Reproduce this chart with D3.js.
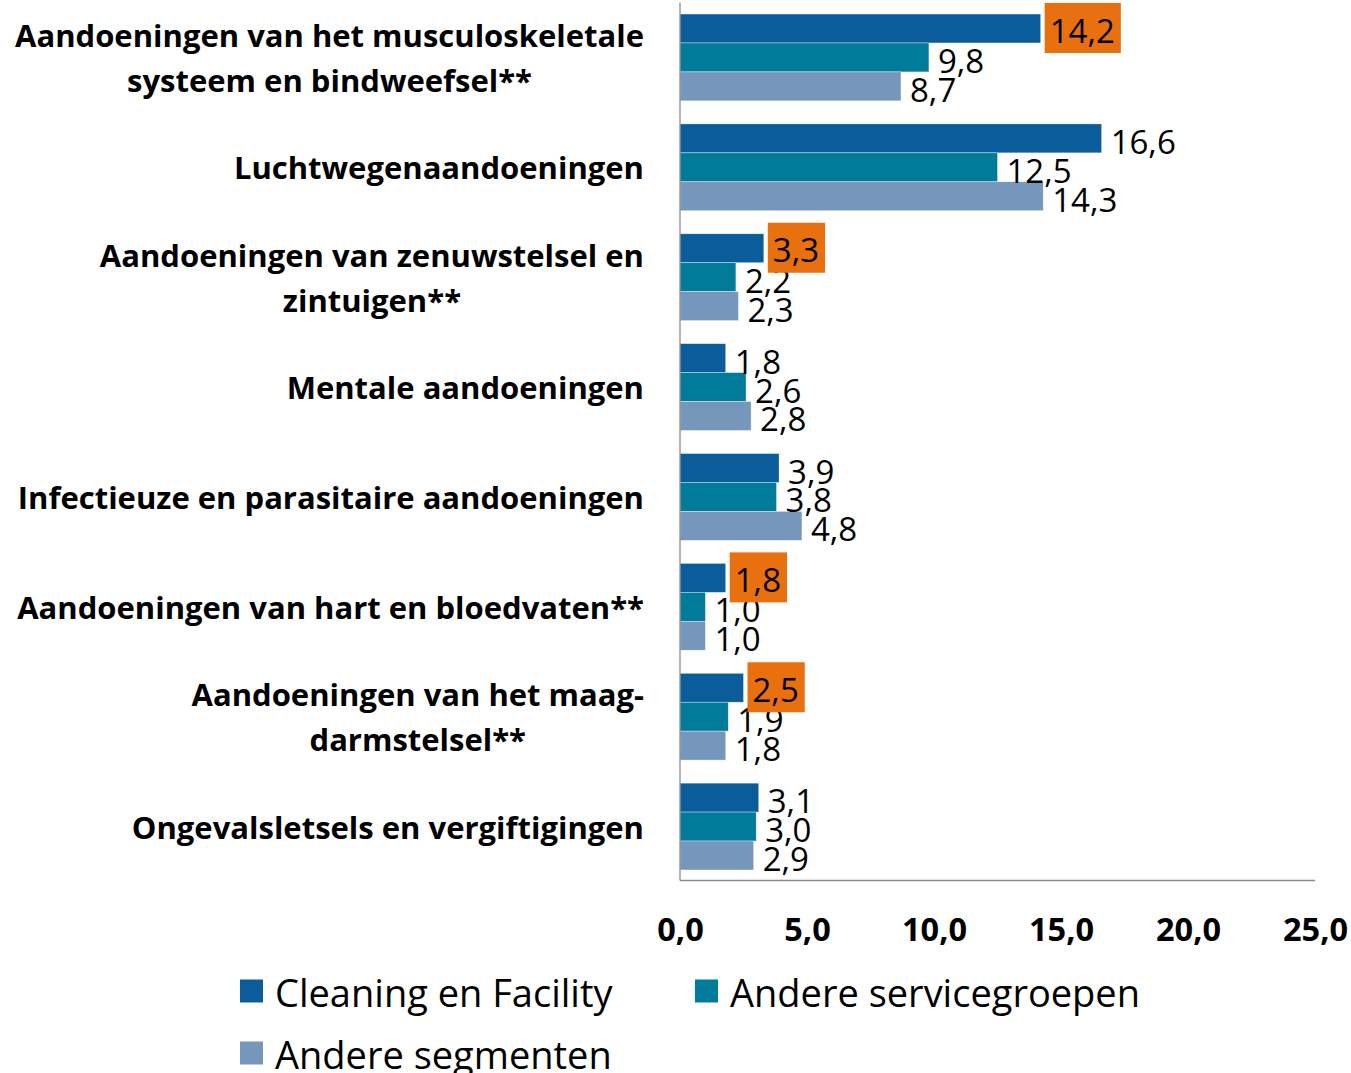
<!DOCTYPE html>
<html>
<head>
<meta charset="utf-8">
<script src="https://cdn.jsdelivr.net/npm/d3@7"></script>
<style>
html,body{margin:0;padding:0;background:#fff;}
svg{display:block;font-family:"Open Sans",sans-serif;}
</style>
</head>
<body>
<svg id="chart" width="1351" height="1073"></svg>
<script>
const categories = [
  "Aandoeningen van het musculoskeletale\nsysteem en bindweefsel**",
  "Luchtwegenaandoeningen",
  "Aandoeningen van zenuwstelsel en\nzintuigen**",
  "Mentale aandoeningen",
  "Infectieuze en parasitaire aandoeningen",
  "Aandoeningen van hart en bloedvaten**",
  "Aandoeningen van het maag-\ndarmstelsel**",
  "Ongevalsletsels en vergiftigingen"
];
const seriesNames = ["Cleaning en Facility", "Andere servicegroepen", "Andere segmenten"];
const cleaning = [14.2, 16.6, 3.3, 1.8, 3.9, 1.8, 2.5, 3.1];
const andereService = [9.8, 12.5, 2.2, 2.6, 3.8, 1.0, 1.9, 3.0];
const andereSegmenten = [8.7, 14.3, 2.3, 2.8, 4.8, 1.0, 1.8, 2.9];
const highlighted = [true, false, true, false, false, true, true, false]; // Cleaning en Facility labels marked
const xTicks = [0, 5, 10, 15, 20, 25];

const colors = ["#0a5c9b", "#007b9a", "#7597bb"];
const highlightColor = "#e9700e";
const seriesValues = [cleaning, andereService, andereSegmenten];

const svg = d3.select("#chart");
const fmt = v => d3.format(".1f")(v).replace(".", ",");

const x = d3.scaleLinear().domain([0, 25]).range([680, 1315]);
const y = d3.scaleBand().domain(categories).range([2.5, 881.5]).paddingInner(0.21).paddingOuter(0.105);
const ySub = d3.scaleBand().domain(d3.range(3)).range([0, y.bandwidth()]);

// bars
const groups = svg.append("g").selectAll("g").data(categories).join("g")
  .attr("transform", d => `translate(0,${y(d)})`);
groups.each(function(cat, ci) {
  const g = d3.select(this);
  seriesValues.forEach((vals, si) => {
    g.append("rect")
      .attr("x", x(0))
      .attr("y", ySub(si))
      .attr("width", x(vals[ci]) - x(0))
      .attr("height", ySub.bandwidth())
      .attr("fill", colors[si])
      .attr("stroke", "#ffffff").attr("stroke-width", 0.6).attr("stroke-opacity", 0.6);
  });
});

// axes
svg.append("line").attr("x1", x(0)).attr("x2", x(0)).attr("y1", 2.5).attr("y2", 880.5)
  .attr("stroke", "#8c8c8c").attr("stroke-width", 1.3);
svg.append("line").attr("x1", x(0)).attr("x2", x(25)).attr("y1", 880.5).attr("y2", 880.5)
  .attr("stroke", "#8c8c8c").attr("stroke-width", 1.3);

const xAxis = d3.axisBottom(x).tickValues(xTicks).tickFormat(fmt).tickSize(0).tickPadding(0);
const xg = svg.append("g").attr("transform", "translate(0,918)").call(xAxis);
xg.select(".domain").remove();
xg.selectAll("text").attr("font-family", "Open Sans, sans-serif").attr("font-size", 32.5)
  .attr("font-weight", "bold").attr("fill", "#000");

// category labels
const labelRight = 644;
const lineH = 45;
categories.forEach(cat => {
  const lines = cat.split("\n");
  const cy = y(cat) + y.bandwidth() / 2;
  const t = svg.append("g");
  const texts = lines.map((ln, i) => t.append("text")
    .attr("y", cy + (i - (lines.length - 1) / 2) * lineH)
    .attr("dominant-baseline", "central")
    .attr("font-size", 31).attr("font-weight", "bold").attr("fill", "#000")
    .text(ln));
  const maxW = d3.max(texts, tx => tx.node().getComputedTextLength());
  texts.forEach(tx => tx.attr("text-anchor", "middle").attr("x", labelRight - maxW / 2));
});

// value labels
const labelLayer = svg.append("g");
const boxLayer = svg.append("g");
categories.forEach((cat, ci) => {
  seriesValues.forEach((vals, si) => {
    const v = vals[ci];
    const cy = y(cat) + ySub(si) + ySub.bandwidth() / 2;
    const hl = si === 0 && highlighted[ci];
    const layer = hl ? boxLayer : labelLayer;
    const g = layer.append("g");
    const tx = g.append("text")
      .attr("x", x(v) + 9)
      .attr("y", cy + 3)
      .attr("dominant-baseline", "central")
      .attr("font-size", 33).attr("fill", "#000")
      .text(fmt(v));
    if (hl) {
      const w = tx.node().getComputedTextLength();
      g.insert("rect", "text")
        .attr("x", x(v) + 4)
        .attr("y", cy - 25.5)
        .attr("width", w + 11)
        .attr("height", 50)
        .attr("fill", highlightColor);
      tx.attr("y", cy + 1.5);
    }
  });
});

// legend
const legendItems = [
  {name: seriesNames[0], color: colors[0], x: 240, y: 991},
  {name: seriesNames[1], color: colors[1], x: 695, y: 991},
  {name: seriesNames[2], color: colors[2], x: 240, y: 1053}
];
const lg = svg.append("g").selectAll("g").data(legendItems).join("g")
  .attr("transform", d => `translate(${d.x},${d.y})`);
lg.append("rect").attr("x", 0).attr("y", -11.5).attr("width", 23).attr("height", 23).attr("fill", d => d.color);
lg.append("text").attr("x", 35).attr("y", 1).attr("dominant-baseline", "central")
  .attr("font-size", 38).attr("fill", "#000").text(d => d.name);
</script>
</body>
</html>
